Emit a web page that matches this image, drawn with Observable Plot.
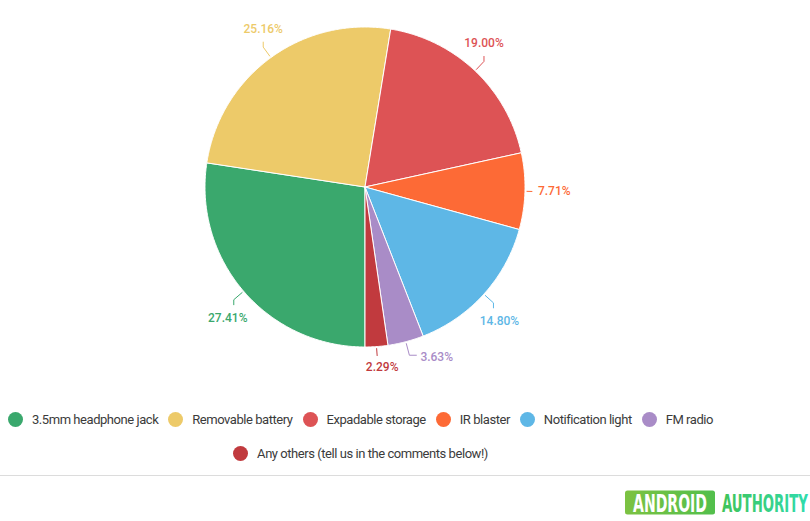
<!DOCTYPE html>
<html>
<head>
<meta charset="utf-8">
<script src="https://cdn.jsdelivr.net/npm/d3@7"></script>
<script src="https://cdn.jsdelivr.net/npm/@observablehq/plot@0.6"></script>
<style>
  html, body { margin: 0; padding: 0; background: #fff; }
  #wrap { position: relative; width: 810px; height: 521px; overflow: hidden; font-family: Roboto, sans-serif; }
  #chart { position: absolute; left: 0; top: 0; }
  .row { position: absolute; left: 0; width: 721px; display: flex; justify-content: center; align-items: center; height: 16px; }
  .item { display: flex; align-items: center; margin: 0 5px; font-size: 13px; letter-spacing: -0.45px; color: #3b3b3b; white-space: nowrap; }
  .dot { width: 15px; height: 15px; border-radius: 50%; margin-right: 9px; flex: none; }
  #rule { position: absolute; left: 0; top: 475px; width: 810px; height: 1px; background: #dcdcdc; }
  #logo { position: absolute; left: 620px; top: 486px; }
</style>
</head>
<body>
<div id="wrap">
  <div id="chart"></div>
  <div class="row" id="row1" style="top:411px"></div>
  <div class="row" id="row2" style="top:445px"></div>
  <div id="rule"></div>
  <svg id="logo" width="190" height="32" viewBox="0 0 190 32">
    <defs>
      <linearGradient id="gbox" x1="0" x2="1" y1="0" y2="0">
        <stop offset="0" stop-color="#7cc242"/>
        <stop offset="1" stop-color="#52bf4c"/>
      </linearGradient>
      <linearGradient id="gtxt" x1="0" x2="1" y1="0" y2="0">
        <stop offset="0" stop-color="#40c45a"/>
        <stop offset="1" stop-color="#2fdcae"/>
      </linearGradient>
    </defs>
    <rect x="5" y="4.5" width="90" height="24" rx="2.5" fill="url(#gbox)"/>
    <g id="lg1"><text font-family="DejaVu Sans Condensed, DejaVu Sans" font-weight="bold" font-size="24" fill="#fff">ANDROID</text></g>
    <g id="lg2"><text font-family="DejaVu Sans Condensed, DejaVu Sans" font-weight="bold" font-size="24" fill="url(#gtxt)">AUTHORITY</text></g>
  </svg>
</div>
<script>
// ---- data ----
const categories = [
  "3.5mm headphone jack",
  "Removable battery",
  "Expadable storage",
  "IR blaster",
  "Notification light",
  "FM radio",
  "Any others (tell us in the comments below!)"
];
const shares = [27.41, 25.16, 19.00, 7.71, 14.80, 3.63, 2.29];
const valueLabels = ["27.41%", "25.16%", "19.00%", "7.71%", "14.80%", "3.63%", "2.29%"];
const colors = ["#3aa86d", "#edca69", "#dd5355", "#fd6a36", "#5eb7e6", "#a98cc7", "#c13a3e"];

// ---- layout of the pie (in unit-circle coordinates) ----
const PX = 160; // pixels per unit (radius)
const cx = 364.5, cy = 186.5;
const arcs = d3.pie().sort(null).startAngle(Math.PI).endAngle(3 * Math.PI)(shares);

// slice polygons
const slicePts = [];
arcs.forEach((a, i) => {
  const n = Math.max(2, Math.ceil((a.endAngle - a.startAngle) / (Math.PI / 360)));
  slicePts.push({k: i, x: 0, y: 0});
  for (let j = 0; j <= n; j++) {
    const t = a.startAngle + (a.endAngle - a.startAngle) * j / n;
    slicePts.push({k: i, x: Math.sin(t), y: Math.cos(t)});
  }
  slicePts.push({k: i, x: 0, y: 0});
});

// label layout
const u = v => v / PX;
const at = (m, rpx) => ({x: Math.sin(m) * (1 + u(rpx)), y: Math.cos(m) * (1 + u(rpx))});
const items = arcs.map((a, i) => {
  const m = (a.startAngle + a.endAngle) / 2;
  const s = Math.sin(m), c = Math.cos(m);
  let type = Math.abs(s) > 0.97 ? "side" : Math.abs(c) > 0.97 ? "vert" : "diag";
  return {i, m, s, c, type};
});
function place(it) {
  const {m, s, c} = it;
  const sgn = s >= 0 ? 1 : -1, vs = c >= 0 ? 1 : -1;
  let pts, lab;
  if (it.type === "side") {
    const p0 = at(m, 2), p1 = at(m, 7);
    pts = [p0, p1];
    lab = {x: at(m, 13).x, y: p1.y, anchor: sgn > 0 ? "start" : "end"};
  } else if (it.type === "vert") {
    const p0 = at(m, 2), p1 = at(m, 9);
    pts = [p0, p1];
    lab = {x: p1.x + u(5 * sgn), y: p1.y + u(12 * vs), anchor: "middle"};
  } else if (it.type === "diag") {
    const p0 = at(m, 2), p1 = at(m, 13);
    const p2 = {x: p1.x, y: p1.y + u(5 * vs)};
    pts = [p0, p1, p2];
    lab = {x: p2.x + (vs < 0 ? u(6 * sgn) : 0), y: p2.y + u(13 * vs), anchor: "middle"};
  } else { // diag with horizontal leg
    const p0 = at(m, 2), p1 = at(m, 14);
    const p2 = {x: p1.x + u(7 * sgn), y: p1.y};
    pts = [p0, p1, p2];
    lab = {x: p2.x + u(4 * sgn), y: p2.y - u(2), anchor: sgn > 0 ? "start" : "end"};
  }
  it.pts = pts; it.lab = lab;
}
items.forEach(place);
// resolve overlaps between centred labels
function box(it) {
  const w = u(valueLabels[it.i].length * 6.6), h = u(12);
  const l = it.lab.anchor === "start" ? it.lab.x : it.lab.anchor === "end" ? it.lab.x - w : it.lab.x - w / 2;
  return {l, r: l + w, b: it.lab.y - h / 2, t: it.lab.y + h / 2};
}
for (let a = 0; a < items.length; a++) for (let b = a + 1; b < items.length; b++) {
  const A = box(items[a]), B = box(items[b]);
  if (A.l < B.r && B.l < A.r && A.b < B.t && B.b < A.t) {
    const mv = Math.abs(items[a].s) > Math.abs(items[b].s) ? items[a] : items[b];
    if (mv.type === "diag" || mv.type === "vert") { mv.type = "diagside"; place(mv); }
  }
}
const linkPts = items.flatMap(it => it.pts.map(p => ({k: it.i, x: p.x, y: p.y})));
const labelData = items.map(it => ({k: it.i, x: it.lab.x, y: it.lab.y, anchor: it.lab.anchor, text: valueLabels[it.i]}));

const textMark = anchor => Plot.text(labelData.filter(d => d.anchor === anchor), {
  x: "x", y: "y", text: "text", fill: d => categories[d.k],
  textAnchor: anchor, lineAnchor: "middle", fontSize: 12, fontWeight: 500
});

const chart = Plot.plot({
  width: 810,
  height: 400,
  margin: 0,
  style: {fontFamily: "Roboto, sans-serif", background: "transparent"},
  x: {domain: [-1, 1], range: [cx - PX, cx + PX], axis: null},
  y: {domain: [-1, 1], range: [cy + PX, cy - PX], axis: null},
  color: {domain: categories, range: colors},
  marks: [
    Plot.line(slicePts, {x: "x", y: "y", z: "k", fill: d => categories[d.k], stroke: "#fff", strokeWidth: 1, strokeLinejoin: "round"}),
    Plot.line(linkPts, {x: "x", y: "y", z: "k", stroke: d => categories[d.k], strokeWidth: 1, strokeLinejoin: "round"}),
    textMark("start"), textMark("middle"), textMark("end")
  ]
});
document.getElementById("chart").appendChild(chart);

// ---- legend ----
function addItem(row, i) {
  const el = document.createElement("div");
  el.className = "item";
  const dot = document.createElement("span");
  dot.className = "dot";
  dot.style.background = colors[i];
  const t = document.createElement("span");
  t.textContent = categories[i];
  el.appendChild(dot); el.appendChild(t);
  row.appendChild(el);
}
const row1 = document.getElementById("row1"), row2 = document.getElementById("row2");
categories.forEach((c, i) => addItem(i < 6 ? row1 : row2, i));

// ---- logo: fit word widths ----
function fit(id, x0, width, baseline) {
  const g = document.getElementById(id);
  const t = g.querySelector("text");
  const w = t.getComputedTextLength() || 1;
  g.setAttribute("transform", `translate(${x0},${baseline}) scale(${width / w},1)`);
}
fit("lg1", 13, 74, 25.5);
fit("lg2", 102, 86, 25.5);
</script>
</body>
</html>
